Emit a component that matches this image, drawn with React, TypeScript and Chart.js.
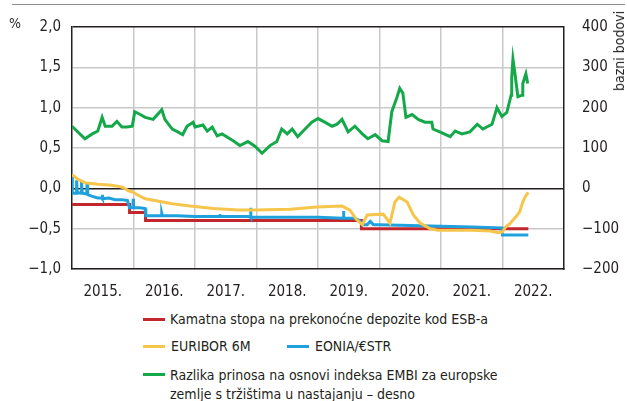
import React, { useEffect, useRef } from 'react';
import { Chart, registerables } from 'chart.js';

Chart.register(...registerables);

// ---------- data (x = decimal year) ----------
const yearTicks = [2015, 2016, 2017, 2018, 2019, 2020, 2021, 2022];

const depositDates = [2015.0, 2015.935, 2015.936, 2016.195, 2016.196, 2019.705, 2019.706, 2022.42];
const depositValues = [-0.2, -0.2, -0.3, -0.3, -0.4, -0.4, -0.5, -0.5];

const euriborDates = [
  2015.0, 2015.1, 2015.21, 2015.42, 2015.6, 2015.72, 2015.83, 2015.92, 2016.0, 2016.06, 2016.19,
  2016.41, 2016.63, 2016.92, 2017.3, 2017.7, 2018.0, 2018.55, 2018.98, 2019.39, 2019.52, 2019.63,
  2019.72, 2019.8, 2020.06, 2020.17, 2020.25, 2020.32, 2020.45, 2020.55, 2020.66, 2020.82, 2020.95,
  2021.2, 2021.5, 2021.8, 2021.93, 2022.0, 2022.05, 2022.08, 2022.12, 2022.15, 2022.22, 2022.28,
  2022.33, 2022.38, 2022.42,
];
const euriborValues = [
  0.17, 0.11, 0.07, 0.05, 0.04, 0.03, 0.01, -0.03, -0.05, -0.08, -0.13,
  -0.16, -0.19, -0.22, -0.25, -0.27, -0.27, -0.26, -0.23, -0.22, -0.27, -0.39,
  -0.45, -0.33, -0.32, -0.43, -0.17, -0.11, -0.17, -0.33, -0.43, -0.5, -0.52,
  -0.52, -0.52, -0.53, -0.55, -0.54, -0.48, -0.46, -0.44, -0.41, -0.35, -0.29,
  -0.17, -0.09, -0.05,
];

const eoniaDates = [
  2015.0, 2015.005, 2015.07, 2015.075, 2015.085, 2015.15, 2015.155, 2015.165, 2015.24, 2015.245,
  2015.255, 2015.33, 2015.42, 2015.49, 2015.495, 2015.5, 2015.6, 2015.7, 2015.8, 2015.9, 2015.935,
  2015.99, 2015.995, 2016.0, 2016.1, 2016.19, 2016.2, 2016.45, 2016.46, 2016.47, 2016.7, 2017.0,
  2017.4, 2017.405, 2017.41, 2017.9, 2017.905, 2017.91, 2018.5, 2019.0, 2019.41, 2019.415, 2019.42,
  2019.6, 2019.68, 2019.72, 2019.8, 2019.85, 2019.9, 2020.0, 2020.5, 2021.0, 2021.5, 2021.99,
  2022.0, 2022.42,
];
const eoniaValues = [
  0.14, -0.06, -0.06, 0.1, -0.05, -0.06, 0.08, -0.06, -0.07, 0.07,
  -0.08, -0.1, -0.12, -0.12, -0.08, -0.13, -0.12, -0.14, -0.14, -0.15, -0.24,
  -0.24, -0.13, -0.24, -0.24, -0.25, -0.34, -0.34, -0.31, -0.34, -0.34, -0.35,
  -0.35, -0.32, -0.35, -0.35, -0.24, -0.36, -0.36, -0.36, -0.37, -0.28, -0.37,
  -0.37, -0.4, -0.45, -0.45, -0.41, -0.45, -0.45, -0.46, -0.47, -0.48, -0.49,
  -0.58, -0.58,
];

const embiDates = [
  2015.0, 2015.21, 2015.33, 2015.42, 2015.49, 2015.54, 2015.65, 2015.73, 2015.81, 2015.89, 2015.98,
  2016.02, 2016.11, 2016.19, 2016.32, 2016.46, 2016.51, 2016.63, 2016.72, 2016.8, 2016.87, 2016.97,
  2017.0, 2017.13, 2017.2, 2017.28, 2017.36, 2017.44, 2017.62, 2017.73, 2017.86, 2017.98, 2018.09,
  2018.22, 2018.33, 2018.41, 2018.5, 2018.58, 2018.67, 2018.79, 2018.9, 2019.0, 2019.11, 2019.23,
  2019.31, 2019.39, 2019.49, 2019.6, 2019.72, 2019.81, 2019.93, 2020.04, 2020.14, 2020.2, 2020.28,
  2020.33, 2020.38, 2020.43, 2020.53, 2020.63, 2020.74, 2020.85, 2020.87, 2020.98, 2021.15, 2021.23,
  2021.34, 2021.47, 2021.59, 2021.68, 2021.83, 2021.91, 2021.99, 2022.07, 2022.14, 2022.15, 2022.17,
  2022.2, 2022.25, 2022.32, 2022.33, 2022.38, 2022.41,
];
const embiValues = [
  154, 123, 135, 142, 176, 154, 154, 166, 152, 152, 154,
  190, 183, 176, 171, 195, 171, 147, 140, 133, 154, 164,
  152, 157, 142, 152, 130, 135, 118, 106, 116, 104, 87,
  106, 116, 147, 135, 147, 128, 147, 164, 173, 164, 154,
  159, 171, 140, 154, 135, 123, 133, 118, 116, 190, 224,
  248, 236, 176, 183, 171, 164, 164, 147, 140, 128, 142,
  135, 140, 159, 147, 159, 200, 178, 188, 231, 275, 320,
  287, 227, 231, 260, 284, 260,
];

const leftTicks = [-1, -0.5, 0, 0.5, 1, 1.5, 2];
const rightTicks = [-200, -100, 0, 100, 200, 300, 400];

const COLORS = {
  deposit: '#c1272d',
  euribor: '#f6c64c',
  eonia: '#1ea1dc',
  embi: '#14a84b',
};

const FONT = '"Liberation Sans Narrow", "DejaVu Sans Condensed", "Arial Narrow", sans-serif';
const TEXT = '#231f20';
const GRID = '#c9c9c9';
const TICK_SIZE = 15;

const zip = (xs: number[], ys: number[]) => xs.map((x, i) => ({ x, y: ys[i] }));
const fmtLeft = (v: number) => {
  const s = Math.abs(v).toFixed(1).replace('.', ',');
  return v < 0 ? '\u2212' + s : s;
};
const fmtRight = (v: number) => (v < 0 ? '\u2212' + Math.abs(v) : String(v));

export default function App() {
  const ref = useRef<HTMLCanvasElement | null>(null);

  useEffect(() => {
    if (!ref.current) return;
    const ds = (label: string, xs: number[], ys: number[], color: string, axis: string) => ({
      label,
      data: zip(xs, ys),
      borderColor: color,
      backgroundColor: color,
      borderWidth: 3,
      pointRadius: 0,
      tension: 0,
      fill: false,
      yAxisID: axis,
    });
    const chart = new Chart(ref.current, {
      type: 'line',
      data: {
        datasets: [
          ds('EURIBOR 6M', euriborDates, euriborValues, COLORS.euribor, 'y'),
          ds('EONIA/€STR', eoniaDates, eoniaValues, COLORS.eonia, 'y'),
          ds('Kamatna stopa na prekonoćne depozite kod ESB-a', depositDates, depositValues, COLORS.deposit, 'y'),
          ds('Razlika prinosa', embiDates, embiValues, COLORS.embi, 'y1'),
        ],
      },
      options: {
        responsive: false,
        animation: false,
        layout: { padding: { top: 20, left: 0, right: 0, bottom: 0 } },
        plugins: { legend: { display: false }, tooltip: { enabled: false } },
        scales: {
          x: {
            type: 'linear',
            min: 2015,
            max: 2023,
            afterBuildTicks: (s: any) => {
              s.ticks = [...yearTicks, 2023].map((v) => ({ value: v }));
            },
            afterFit: (s: any) => {
              s.height = 36;
            },
            ticks: {
              callback: (v: any) => (yearTicks.includes(v) ? `${v}.` : ''),
              labelOffset: 30.75,
              padding: 14,
              maxRotation: 0,
              autoSkip: false,
              color: TEXT,
              font: { family: FONT, size: TICK_SIZE },
            },
            grid: {
              drawTicks: false,
              color: (c: any) => (c.tick && (c.tick.value === 2015 || c.tick.value === 2023) ? 'rgba(0,0,0,0)' : GRID),
              lineWidth: 1.5,
            },
            border: { display: true, color: TEXT, width: 1.5 },
          },
          y: {
            type: 'linear',
            position: 'left',
            min: -1,
            max: 2,
            afterBuildTicks: (s: any) => {
              s.ticks = leftTicks.map((v) => ({ value: v }));
            },
            afterFit: (s: any) => {
              s.width = 72;
            },
            ticks: {
              callback: (v: any) => fmtLeft(v),
              padding: 11,
              color: TEXT,
              font: { family: FONT, size: TICK_SIZE },
            },
            grid: {
              drawTicks: false,
              color: (c: any) => (c.tick && (c.tick.value === 0 || c.tick.value === 2) ? TEXT : GRID),
              lineWidth: 1.5,
            },
            border: { display: true, color: TEXT, width: 1.5 },
          },
          y1: {
            type: 'linear',
            position: 'right',
            min: -200,
            max: 400,
            afterBuildTicks: (s: any) => {
              s.ticks = rightTicks.map((v) => ({ value: v }));
            },
            afterFit: (s: any) => {
              s.width = 63;
            },
            ticks: {
              callback: (v: any) => fmtRight(v),
              padding: 18,
              color: TEXT,
              font: { family: FONT, size: TICK_SIZE },
            },
            grid: { drawOnChartArea: false, drawTicks: false },
            border: { display: true, color: TEXT, width: 1.5 },
          },
        },
      },
    } as any);
    return () => chart.destroy();
  }, []);

  const textStyle: React.CSSProperties = {
    position: 'absolute',
    fontFamily: FONT,
    color: TEXT,
    whiteSpace: 'nowrap',
    lineHeight: 1,
  };
  const swatch = (color: string, left: number, top: number) => (
    <div style={{ position: 'absolute', left, top, width: 22, height: 3, background: color }} />
  );
  const legendFont = 14;

  return (
    <div
      style={{
        position: 'absolute',
        left: 0,
        top: 0,
        width: 627,
        height: 401,
        background: '#fff',
        overflow: 'hidden',
      }}
    >
      <div
        style={{ position: 'absolute', left: 12, top: 4, width: 613, height: 0, borderTop: '1.5px solid #8c8c8c' }}
      />
      <canvas ref={ref} width={627} height={305} style={{ position: 'absolute', left: 0, top: 0, display: 'block' }} />
      <div style={{ ...textStyle, left: 9, top: 16, fontSize: 14 }}>%</div>
      <div
        style={{
          ...textStyle,
          left: 619,
          top: 51,
          fontSize: 14,
          transform: 'translate(-50%, -50%) rotate(-90deg)',
        }}
      >
        bazni bodovi
      </div>

      {swatch(COLORS.deposit, 143, 318)}
      <div style={{ ...textStyle, left: 170, top: 312, fontSize: legendFont }}>
        Kamatna stopa na prekonoćne depozite kod ESB-a
      </div>

      {swatch(COLORS.euribor, 143, 345)}
      <div style={{ ...textStyle, left: 171, top: 339, fontSize: legendFont }}>EURIBOR 6M</div>
      {swatch(COLORS.eonia, 287, 345)}
      <div style={{ ...textStyle, left: 315, top: 339, fontSize: legendFont }}>EONIA/€STR</div>

      {swatch(COLORS.embi, 143, 373)}
      <div style={{ ...textStyle, left: 170, top: 366, fontSize: legendFont, lineHeight: '19px' }}>
        Razlika prinosa na osnovi indeksa EMBI za europske
        <br />
        zemlje s tržištima u nastajanju – desno
      </div>
    </div>
  );
}
